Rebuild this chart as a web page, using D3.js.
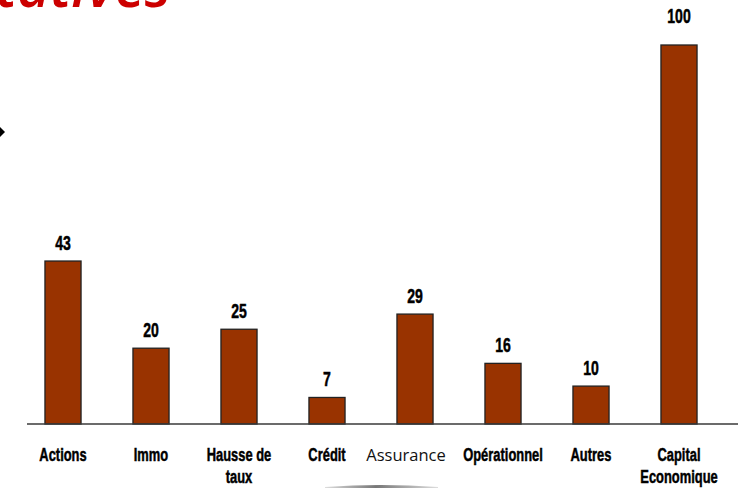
<!DOCTYPE html>
<html>
<head>
<meta charset="utf-8">
<script src="https://cdn.jsdelivr.net/npm/d3@7"></script>
<style>
  body { margin: 0; background: #fff; }
  svg { display: block; }
</style>
</head>
<body>
<div id="chart"></div>
<script>
// chart data
var categories = ["Actions", "Immo", "Hausse de taux", "Crédit", "Assurance", "Opérationnel", "Autres", "Capital Economique"];
var values = [43, 20, 25, 7, 29, 16, 10, 100];
var labelLines = [["Actions"], ["Immo"], ["Hausse de", "taux"], ["Crédit"], ["Assurance"], ["Opérationnel"], ["Autres"], ["Capital", "Economique"]];

var W = 738, H = 488;
var baseY = 424;

var svg = d3.select("#chart")
  .append("svg")
    .attr("width", W)
    .attr("height", H);

// title fragment, cut off at the top
svg.append("text")
  .attr("x", -4)
  .attr("y", 7)
  .attr("font-family", "'Open Sans', sans-serif")
  .attr("font-style", "italic")
  .attr("font-weight", 600)
  .attr("font-size", 57)
  .attr("fill", "#cc0000")
  .text("tatives");

// small arrow head at the left edge
svg.append("path")
  .attr("d", "M0,127 L5,132 L0,137 Z")
  .attr("fill", "#000");

var x = d3.scaleBand()
  .domain(categories)
  .range([19, 723])
  .paddingInner(0.59)
  .paddingOuter(0.295);

var y = d3.scaleLinear()
  .domain([0, 100])
  .range([baseY, 45]);

// bars
svg.selectAll("rect.bar")
  .data(categories)
  .enter()
  .append("rect")
    .attr("class", "bar")
    .attr("x", d => x(d))
    .attr("y", (d, i) => y(values[i]))
    .attr("width", x.bandwidth())
    .attr("height", (d, i) => baseY - y(values[i]))
    .attr("fill", "#993300")
    .attr("stroke", "#222")
    .attr("stroke-width", 1.3);

// baseline
svg.append("line")
  .attr("x1", 27).attr("x2", W)
  .attr("y1", baseY).attr("y2", baseY)
  .attr("stroke", "#3a3a3a")
  .attr("stroke-width", 1.5);

// value labels
svg.selectAll("text.val")
  .data(categories)
  .enter()
  .append("text")
    .attr("class", "val")
    .attr("text-anchor", "middle")
    .attr("font-family", "'Liberation Sans', Arial, sans-serif")
    .attr("font-weight", "bold")
    .attr("font-size", 19.5)
    .attr("fill", "#000")
    .attr("stroke", "#000")
    .attr("stroke-width", 0.5)
    .attr("transform", (d, i) => {
      var cy = values[i] === d3.max(values) ? y(values[i]) - 22 : y(values[i]) - 11;
      return "translate(" + (x(d) + x.bandwidth() / 2) + "," + cy + ") scale(0.72,1)";
    })
    .text((d, i) => values[i]);

// category labels
var cat = svg.selectAll("g.cat")
  .data(categories)
  .enter()
  .append("g")
    .attr("class", "cat")
    .attr("transform", d => "translate(" + (x(d) + x.bandwidth() / 2) + ",461)");

cat.each(function(d, i) {
  var g = d3.select(this);
  labelLines[i].forEach(function(line, j) {
    if (d === "Assurance") {
      g.append("text")
        .attr("x", -9)
        .attr("text-anchor", "middle")
        .attr("font-family", "'Open Sans', sans-serif")
        .attr("font-size", 16.5)
        .attr("fill", "#111")
        .text(line);
    } else {
      g.append("text")
        .attr("y", j * 22)
        .attr("text-anchor", "middle")
        .attr("font-family", "'Liberation Sans', Arial, sans-serif")
        .attr("font-weight", "bold")
        .attr("font-size", 19)
        .attr("fill", "#000")
        .attr("stroke", "#000")
        .attr("stroke-width", 0.5)
        .attr("transform", "scale(0.68,1)")
        .text(line);
    }
  });
});

// grey swoosh at the bottom
var grad = svg.append("defs").append("linearGradient")
  .attr("id", "sw")
  .attr("x1", "0%").attr("x2", "100%");
grad.append("stop").attr("offset", "0%").attr("stop-color", "#ddd");
grad.append("stop").attr("offset", "45%").attr("stop-color", "#777");
grad.append("stop").attr("offset", "100%").attr("stop-color", "#ddd");

svg.append("path")
  .attr("d", "M325,487 Q380,483 438,487 L438,488 L325,488 Z")
  .attr("fill", "url(#sw)");
</script>
</body>
</html>
